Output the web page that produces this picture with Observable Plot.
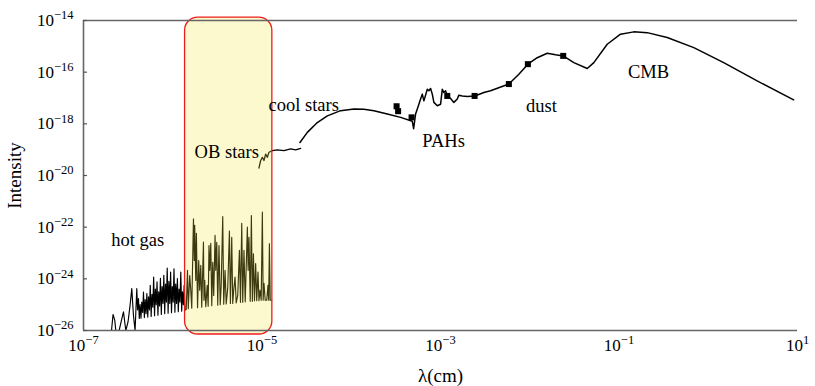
<!DOCTYPE html>
<html><head><meta charset="utf-8">
<script src="https://cdn.jsdelivr.net/npm/d3@7"></script>
<script src="https://cdn.jsdelivr.net/npm/@observablehq/plot@0.6"></script>
<style>body{margin:0;background:#fff}</style>
</head><body><div id="chart"></div>
<script>
// ---- data (log10 of wavelength in cm, log10 of intensity) ----
// hot gas + OB stars line spectrum
const spikyLogLambda = [
  -6.686,-6.669,-6.650,-6.638,-6.601,-6.574,-6.552,-6.538,-6.526,-6.501,-6.478,-6.459,-6.440,-6.422,
  -6.403,-6.394,-6.384,-6.375,-6.366,-6.356,-6.347,-6.337,-6.328,-6.318,-6.309,-6.299,-6.290,-6.280,-6.271,-6.261,
  -6.252,-6.242,-6.233,-6.223,-6.214,-6.204,-6.195,-6.185,-6.176,-6.166,-6.157,-6.147,-6.138,-6.128,-6.119,-6.109,
  -6.100,-6.090,-6.081,-6.071,-6.062,-6.052,-6.043,-6.033,-6.024,-6.014,-6.005,-5.995,-5.986,-5.976,-5.967,-5.957,
  -5.948,-5.938,-5.929,-5.919,-5.910,-5.900,-5.891,-5.881,-5.872,-5.862,
  -5.849,-5.835,-5.826,-5.810,-5.798,-5.787,-5.768,-5.759,-5.754,-5.742,-5.735,-5.722,-5.709,-5.698,-5.686,-5.675,
  -5.656,-5.650,-5.642,-5.630,-5.614,-5.603,-5.594,-5.586,-5.574,-5.563,-5.552,-5.541,-5.526,-5.518,-5.507,-5.496,
  -5.482,-5.468,-5.457,-5.440,-5.429,-5.414,-5.401,-5.384,-5.365,-5.354,-5.339,-5.328,-5.317,-5.302,-5.289,-5.272,
  -5.253,-5.241,-5.227,-5.216,-5.202,-5.188,-5.164,-5.155,-5.146,-5.132,-5.119,-5.108,-5.096,-5.084,-5.071,-5.059,
  -5.045,-5.034,-5.022,-5.009,-4.996,-4.987,-4.978,-4.964,-4.947,-4.933,-4.925,-4.917,-4.908,-4.891
];
const spikyLogIntensity = [
  -26.0,-25.38,-25.60,-26.0,-26.0,-25.60,-25.28,-25.67,-26.0,-25.67,-25.02,-24.38,-25.43,-26.0,
  -24.38,-25.20,-24.76,-25.53,-25.00,-25.52,-24.90,-25.30,-24.51,-25.50,-24.80,-25.35,-24.57,-25.48,-24.70,-25.20,
  -24.25,-25.46,-24.60,-25.10,-23.93,-25.43,-24.40,-25.00,-24.12,-25.41,-24.50,-25.05,-23.98,-25.38,-24.30,-24.95,
  -23.86,-25.35,-24.20,-24.90,-23.58,-25.33,-24.10,-24.95,-23.74,-25.31,-24.30,-24.90,-23.61,-25.29,-24.20,-24.95,
  -23.99,-25.27,-24.40,-24.90,-23.74,-25.25,-24.50,-25.00,-24.25,-25.22,
  -25.18,-23.67,-25.16,-23.87,-24.44,-25.14,-21.68,-23.29,-21.93,-24.06,-22.24,-25.12,-23.29,-24.44,-23.48,-25.10,
  -22.58,-24.83,-24.06,-25.08,-24.25,-25.06,-22.71,-23.67,-22.63,-25.04,-23.36,-24.64,-22.32,-23.67,-22.59,-25.02,
  -22.71,-25.00,-24.25,-21.59,-24.98,-23.67,-24.97,-24.37,-22.15,-24.95,-22.39,-24.95,-24.44,-23.93,-24.93,-24.64,
  -22.90,-24.91,-21.85,-24.91,-22.90,-24.89,-22.00,-23.67,-22.39,-24.87,-21.55,-24.87,-23.03,-24.85,-23.41,-24.85,
  -23.74,-24.85,-24.44,-24.83,-21.42,-24.83,-24.17,-24.83,-24.83,-24.25,-24.83,-22.64,-24.83,-24.83
];
// OB stars continuum piece
const obContLogLambda = [-5.034,-5.015,-4.996,-4.978,-4.959,-4.940,-4.922,-4.884,-4.828,-4.754,-4.679,-4.623,-4.567];
const obContLogIntensity = [-19.71,-19.42,-19.30,-19.42,-19.17,-19.30,-19.10,-19.04,-19.01,-19.04,-18.97,-19.01,-18.95];
// cool stars, PAHs, dust, CMB
const irRadioLogLambda = [
  -4.575,-4.492,-4.380,-4.268,-4.119,-3.970,-3.858,-3.746,-3.596,-3.447,-3.316,-3.301,-3.279,-3.260,-3.223,-3.204,
  -3.186,-3.148,-3.130,-3.111,-3.092,-3.074,-3.036,-2.999,-2.980,-2.962,-2.943,-2.924,-2.887,-2.850,-2.812,-2.794,
  -2.756,-2.700,-2.615,-2.514,-2.439,-2.234,-2.122,-2.021,-1.916,-1.804,-1.711,-1.625,-1.506,-1.356,-1.282,-1.132,
  -0.983,-0.834,-0.684,-0.460,-0.162,0.173,0.548,0.957
];
const irRadioLogIntensity = [
  -18.72,-18.33,-17.95,-17.69,-17.49,-17.43,-17.44,-17.49,-17.62,-17.75,-17.90,-18.19,-17.62,-17.43,-17.04,-16.85,
  -17.11,-16.66,-16.72,-16.63,-16.85,-17.17,-17.30,-17.24,-16.66,-16.79,-16.72,-16.92,-17.02,-17.17,-17.04,-16.89,
  -16.92,-16.94,-16.92,-16.79,-16.72,-16.46,-16.08,-15.69,-15.44,-15.27,-15.33,-15.37,-15.63,-15.86,-15.63,-14.92,
  -14.53,-14.44,-14.47,-14.66,-15.05,-15.63,-16.34,-17.07
];
// measured points (squares)
const pointLogLambda = [-3.492,-3.475,-3.324,-2.924,-2.618,-2.234,-2.021,-1.625];
const pointLogIntensity = [-17.32,-17.51,-17.75,-16.92,-16.92,-16.46,-15.69,-15.37];
// highlighted OB band
const bandLogLambda = [-5.862,-4.884];
const bandLogIntensity = [-26.155,-13.892];
// annotations
const labelText = ["hot gas","OB stars","cool stars","PAHs","dust","CMB"];
const labelLogLambda = [-6.392,-5.395,-4.533,-2.965,-1.868,-0.670];
const labelLogIntensity = [-22.51,-19.08,-17.26,-18.65,-17.30,-15.99];
// axis ticks
const xTickExponents = [-7,-5,-3,-1,1];
const yTickExponents = [-26,-24,-22,-20,-18,-16,-14];

// ---- build tables ----
const pairs = (lx, ly) => lx.map((v,i) => ({x: 10**v, y: 10**ly[i]}));
const spiky = pairs(spikyLogLambda, spikyLogIntensity);
const obCont = pairs(obContLogLambda, obContLogIntensity);
const irRadio = pairs(irRadioLogLambda, irRadioLogIntensity);
const points = pairs(pointLogLambda, pointLogIntensity);
const band = [{x1: 10**bandLogLambda[0], x2: 10**bandLogLambda[1], y1: 10**bandLogIntensity[0], y2: 10**bandLogIntensity[1]}];
const labels = labelText.map((t,i) => ({t, x: 10**labelLogLambda[i], y: 10**labelLogIntensity[i]}));
const fmt = d => "10^" + Math.round(Math.log10(d));
const FONT = '"Liberation Serif", "Times New Roman", serif';
const yTicks = yTickExponents.map(e => 10**e);

const chart = Plot.plot({
  width: 815, height: 386,
  marginLeft: 83, marginRight: 18, marginTop: 20, marginBottom: 56,
  style: {fontFamily: FONT, fontSize: "17px", background: "white", color: "black", overflow: "visible"},
  x: {type: "log", domain: [1e-7, 10]},
  y: {type: "log", domain: [1e-26, 1e-14]},
  marks: [
    Plot.line(spiky, {x: "x", y: "y", stroke: "black", strokeWidth: 1.15}),
    Plot.line(obCont, {x: "x", y: "y", stroke: "black", strokeWidth: 1.3}),
    Plot.line(irRadio, {x: "x", y: "y", stroke: "black", strokeWidth: 1.5}),
    Plot.dot(points, {x: "x", y: "y", symbol: "square", r: 3.4, fill: "black", stroke: "none"}),
    Plot.rect(band, {x1: "x1", x2: "x2", y1: "y1", y2: "y2", fill: "#f2e640", fillOpacity: 0.25, stroke: "#ee1c1c", strokeWidth: 1.3, rx: 13}),
    Plot.ruleY([1e-14], {stroke: "#666", strokeWidth: 1.6}),
    Plot.ruleY([1e-26], {stroke: "#666", strokeWidth: 1.6}),
    Plot.ruleX([1e-7], {stroke: "#666", strokeWidth: 1.6}),
    Plot.axisX({ticks: xTickExponents.map(e => 10**e), tickFormat: fmt, tickSize: 0, tickPadding: 8,
      label: "λ(cm)", labelAnchor: "center", labelArrow: "none", labelOffset: 51}),
    Plot.axisY({ticks: yTicks, tickFormat: fmt, tickSize: 0, tickPadding: 10,
      label: "Intensity", labelAnchor: "center", labelArrow: "none", labelOffset: 76}),
    Plot.axisY({ticks: yTicks, tickFormat: () => "", tickSize: 4, dx: 4, stroke: "#555", strokeWidth: 1.2, label: null}),
    Plot.text(labels, {x: "x", y: "y", text: "t", fontSize: 18.5, fontFamily: FONT, fill: "black"})
  ]
});

// superscript exponents and axis label size
chart.querySelectorAll("text").forEach(t => {
  const txt = t.textContent.trim();
  if (txt === "Intensity" || txt === "λ(cm)") { t.setAttribute("font-size", "19"); return; }
  const m = /^10\^(-?\d+)$/.exec(txt);
  if (!m) return;
  while (t.firstChild) t.removeChild(t.firstChild);
  t.appendChild(document.createTextNode("10"));
  const s = document.createElementNS("http://www.w3.org/2000/svg", "tspan");
  s.setAttribute("dy", "-6.5");
  s.setAttribute("font-size", "12.5");
  s.textContent = m[1].replace("-", "\u2212");
  t.appendChild(s);
});
document.getElementById("chart").appendChild(chart);
</script></body></html>
